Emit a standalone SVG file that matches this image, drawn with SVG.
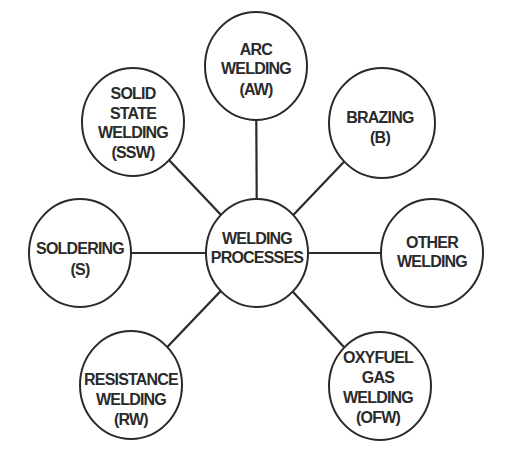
<svg xmlns="http://www.w3.org/2000/svg" width="513" height="460" viewBox="0 0 513 460">
<style>
.n{fill:#fff;stroke:#2a2a2a;stroke-width:2}
.c line{stroke:#2a2a2a;stroke-width:2.2}
text{font-family:"Liberation Sans",Arial,sans-serif;font-weight:bold;font-size:16px;letter-spacing:-0.8px;fill:#2a2a2a;text-anchor:middle}
</style>
<rect width="513" height="460" fill="#fff"/>
<g class="c" id="connectors">
<line x1="257" y1="253" x2="256" y2="66"/>
<line x1="257" y1="253" x2="381" y2="123"/>
<line x1="257" y1="253" x2="432" y2="253"/>
<line x1="257" y1="253" x2="380" y2="386"/>
<line x1="257" y1="253" x2="131" y2="385"/>
<line x1="257" y1="253" x2="80" y2="253"/>
<line x1="257" y1="253" x2="133" y2="122"/>
</g>
<g id="center">
<ellipse class="n" cx="257" cy="253" rx="51" ry="54"/>
<text x="257" y="244">WELDING</text>
<text x="257" y="263">PROCESSES</text>
</g>
<g id="aw">
<ellipse class="n" cx="256" cy="66" rx="51" ry="54"/>
<text x="256" y="55">ARC</text>
<text x="256" y="74">WELDING</text>
<text x="256" y="95">(AW)</text>
</g>
<g id="b">
<ellipse class="n" cx="382" cy="123" rx="53" ry="55"/>
<text x="380" y="123">BRAZING</text>
<text x="380" y="143">(B)</text>
</g>
<g id="other">
<ellipse class="n" cx="432" cy="253" rx="51" ry="54"/>
<text x="432" y="248">OTHER</text>
<text x="432" y="267">WELDING</text>
</g>
<g id="ofw">
<ellipse class="n" cx="380" cy="386" rx="51" ry="54"/>
<text x="378" y="363">OXYFUEL</text>
<text x="378" y="383">GAS</text>
<text x="378" y="403">WELDING</text>
<text x="378" y="423">(OFW)</text>
</g>
<g id="rw">
<ellipse class="n" cx="131" cy="385" rx="51" ry="54"/>
<text x="131" y="385">RESISTANCE</text>
<text x="131" y="405">WELDING</text>
<text x="131" y="425">(RW)</text>
</g>
<g id="s">
<ellipse class="n" cx="80" cy="253" rx="51" ry="54"/>
<text x="80" y="254">SOLDERING</text>
<text x="80" y="275">(S)</text>
</g>
<g id="ssw">
<ellipse class="n" cx="133" cy="122" rx="51" ry="54"/>
<text x="133" y="99">SOLID</text>
<text x="133" y="119">STATE</text>
<text x="133" y="138">WELDING</text>
<text x="133" y="158">(SSW)</text>
</g>
</svg>
